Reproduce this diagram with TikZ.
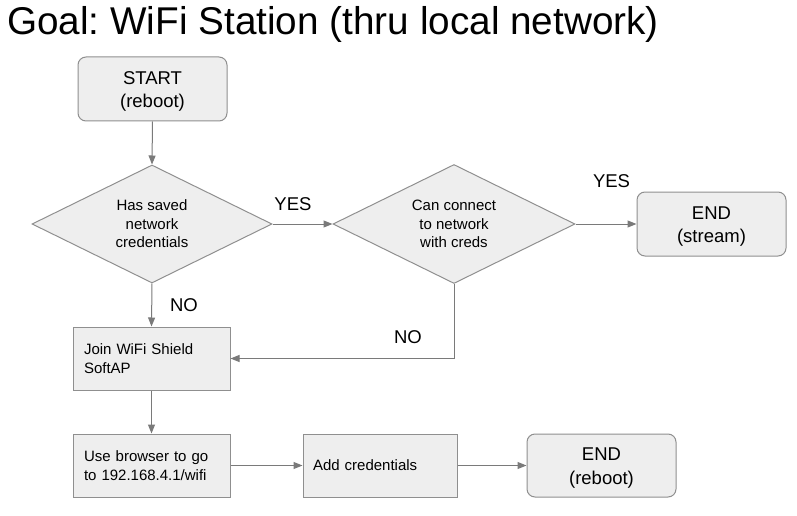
\documentclass[tikz,border=0pt]{standalone}
\usepackage{fontspec}
\setmainfont{Liberation Sans}
\frenchspacing
\usetikzlibrary{shapes.geometric,arrows.meta}
\definecolor{boxfill}{HTML}{EEEEEE}
\definecolor{boxline}{HTML}{8F8F8F}
\definecolor{arrline}{HTML}{7A7A7A}
\newcommand{\toplift}{\rule{0pt}{17.5pt}}
\tikzset{
  base/.style={draw=boxline, fill=boxfill, line width=1pt},
  termbox/.style={base, rounded corners=8pt, inner sep=0pt, align=center,
    font=\fontsize{18.5}{23.5}\selectfont},
  procbox/.style={base, inner sep=0pt, inner xsep=11pt, align=left,
    font=\fontsize{15}{19}\selectfont},
  decbox/.style={base, diamond, aspect=2, inner sep=0pt, align=center,
    font=\fontsize{15}{18.5}\selectfont},
  flow/.style={draw=arrline, line width=1pt, -{Triangle[length=9pt,width=7pt]}},
  lbl/.style={inner sep=0pt, font=\fontsize{18.5}{22}\selectfont},
}
\begin{document}
\begin{tikzpicture}[x=1pt,y=-1pt]
\useasboundingbox (0,0) rectangle (797,516);
\node[anchor=base west, inner sep=0pt, font=\fontsize{38.7}{44}\selectfont] (title) at (7,35) {Goal: WiFi Station (thru local network)};

\node[termbox, minimum width=149pt, minimum height=64pt] (start) at (152.5,89) {\toplift START\\(reboot)};
\node[decbox, minimum width=240pt, minimum height=118pt] (d1) at (152,224) {Has saved\\network\\credentials};
\node[decbox, minimum width=242pt, minimum height=119pt] (d2) at (454,224) {Can connect\\to network\\with creds};
\node[termbox, minimum width=149pt, minimum height=64pt] (end1) at (711.5,224) {\toplift END\\(stream)};
\node[procbox, text width=135pt, minimum height=63pt] (join) at (151.5,358.5) {Join WiFi Shield\\SoftAP};
\node[procbox, text width=135pt, minimum height=63pt] (use) at (151.5,465.5) {Use browser to go\\to 192.168.4.1/wifi};
\node[procbox, text width=134pt, inner xsep=10pt, minimum height=63pt] (add) at (380,465.5) {Add credentials};
\node[termbox, minimum width=149pt, minimum height=63pt] (end2) at (601.5,465.5) {\toplift END\\(reboot)};

\draw[flow] (start.south) -- (d1.north);
\draw[flow] (d1.east) -- (d2.west);
\draw[flow] (d2.east) -- (end1.west);
\draw[flow] (d1.south) -- (join.north);
\coordinate (bend) at (d2.south |- join.east);
\draw[flow] (d2.south) -- (bend) -- (join.east);
\draw[flow] (join.south) -- (use.north);
\draw[flow] (use.east) -- (add.west);
\draw[flow] (add.east) -- (end2.west);

\node[lbl] (yes1) at (293,204.5) {YES};
\node[lbl] (yes2) at (611.5,181) {YES};
\node[lbl] (no1) at (184,305) {NO};
\node[lbl] (no2) at (408,337.5) {NO};
\end{tikzpicture}
\end{document}
